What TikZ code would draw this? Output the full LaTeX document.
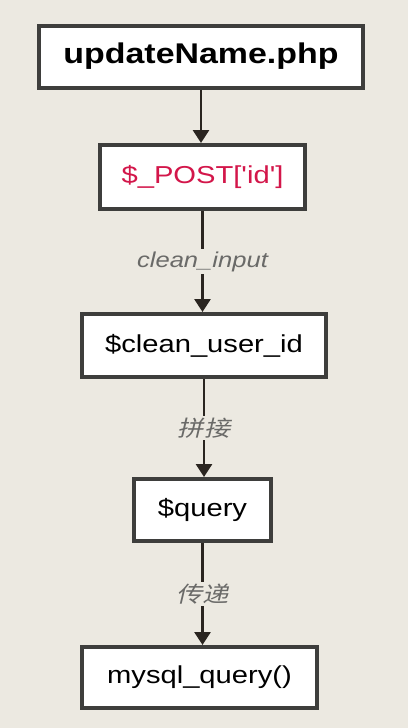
\documentclass[tikz,border=0pt]{standalone}
\usepackage{fontspec}
\setmainfont{Liberation Sans}[Ligatures=TeXOff]
\newfontfamily\cjk[FakeSlant=0.2]{Noto Sans CJK SC}
\usetikzlibrary{arrows.meta}
\definecolor{bg}{HTML}{ECE9E1}
\definecolor{bord}{HTML}{3E3E3C}
\definecolor{redtxt}{HTML}{D3164A}
\definecolor{lbl}{HTML}{6A6A68}
\definecolor{arr}{HTML}{2A2520}
\newcommand\sx[1]{\scalebox{1.19}[1]{#1}}
\tikzset{
  box/.style={draw=bord, line width=4pt, fill=white, inner sep=0pt, align=center, font=\fontsize{24.5}{28}\selectfont},
  conn/.style={draw=arr, line width=2.8pt, -{Triangle[width=16pt,length=13pt]}},
  lab/.style={fill=bg, inner sep=2pt, text=lbl, font=\fontsize{21.5}{26}\selectfont\itshape},
  cjklab/.style={fill=bg, inner sep=2pt, text=lbl, font=\fontsize{22}{26}\selectfont\cjk}
}
\begin{document}
\begin{tikzpicture}[x=1pt,y=-1pt]
\fill[bg] (0,0) rectangle (408,728);
\useasboundingbox (0,0) rectangle (408,728);
\node[box, minimum width=324pt, minimum height=62pt, font=\fontsize{28.5}{32}\selectfont\bfseries] (a) at (201,56.5) {\sx{updateName.php}};
\node[box, minimum width=205pt, minimum height=64pt, text=redtxt] (b) at (202.5,177) {\sx{\$\_POST['id']}};
\node[box, minimum width=244pt, minimum height=63pt] (c) at (204,345.5) {\sx{\$clean\_user\_id}};
\node[box, minimum width=137pt, minimum height=62pt] (d) at (202.5,510) {\sx{\$query}};
\node[box, minimum width=235pt, minimum height=61pt] (e) at (199.5,677.5) {\sx{mysql\_query()}};
\draw[conn] (a.south) -- (a.south |- b.north);
\draw[conn] (b.south) -- (b.south |- c.north) node[lab, pos=0.5] (l1) {\sx{clean\_input}};
\draw[conn] (c.south) -- (c.south |- d.north) node[cjklab, pos=0.5] (l2) {\sx{拼接}};
\draw[conn] (d.south) -- (d.south |- e.north) node[cjklab, pos=0.5] (l3) {\sx{传递}};
\end{tikzpicture}
\end{document}
